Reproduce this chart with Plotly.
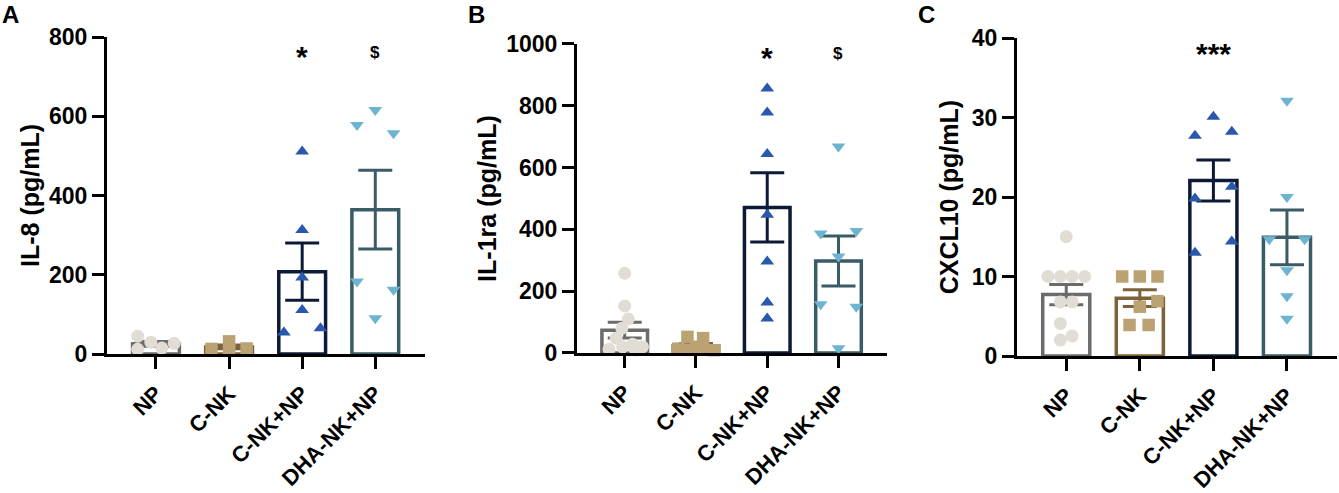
import numpy as np
import plotly.graph_objects as go

# === DATA ===
groups = ["NP", "C-NK", "C-NK+NP", "DHA-NK+NP"]

# IL-8 (pg/mL)
il8_np = [45, 30, 27, 12, 15]
il8_np_dx = [-0.25, -0.07, 0.25, -0.25, 0.08]
il8_cnk = [13, 32, 14, 12]
il8_cnk_dx = [-0.24, 0, 0.24, 0]
il8_cnknp = [511, 313, 193, 111, 54, 65]
il8_cnknp_dx = [0, 0, 0, 0, -0.25, 0.25]
il8_dha = [578, 616, 557, 183, 162, 90]
il8_dha_dx = [-0.25, 0, 0.25, -0.25, 0.25, 0]
il8_sig = ["", "", "*", "$"]

# IL-1ra (pg/mL)
il1ra_np = [258, 152, 110, 80, 48, 12, 20, 28, 20, 10]
il1ra_np_dx = [0, 0, 0.05, -0.04, -0.12, -0.22, -0.03, 0.11, 0.25, 0.15]
il1ra_cnk = [52, 48, 14, 10, 12, 9, 20]
il1ra_cnk_dx = [-0.12, 0.1, -0.25, -0.08, 0.08, 0.25, 0]
il1ra_cnknp = [856, 778, 644, 447, 296, 163, 112]
il1ra_cnknp_dx = [0, 0, 0, 0, 0, 0, 0]
il1ra_dha = [668, 387, 395, 312, 158, 150, 15]
il1ra_dha_dx = [0, -0.25, 0.25, 0, -0.25, 0.25, 0]
il1ra_sig = ["", "", "*", "$"]

# CXCL10 (pg/mL)
cxcl10_np = [15.0, 10, 10, 10, 10, 6.8, 6.8, 4.1, 2.5, 2.0]
cxcl10_np_dx = [0, -0.25, -0.08, 0.08, 0.25, -0.08, 0.08, -0.08, 0.08, -0.08]
cxcl10_cnk = [10, 10, 10, 6.9, 6.2, 3.9, 3.9]
cxcl10_cnk_dx = [-0.24, 0, 0.24, 0.24, 0, -0.14, 0.12]
cxcl10_cnknp = [30.1, 27.7, 28.2, 21.3, 19.8, 14.4, 13.0]
cxcl10_cnknp_dx = [0, -0.25, 0.25, 0.25, -0.25, 0.25, -0.25]
cxcl10_dha = [32.1, 20.0, 14.7, 14.7, 10.8, 7.5, 4.7]
cxcl10_dha_dx = [0, 0, -0.24, 0.24, 0, 0, 0]
cxcl10_sig = ["", "", "***", ""]

# === STYLE ===
edge_colors = ["#6b6b6b", "#7b623a", "#0c1a38", "#3a5c66"]
point_colors = ["#e2ddd4", "#bba273", "#2a58ad", "#6db4d1"]
symbols = ["circle", "square", "triangle-up", "triangle-down"]
sizes = [13, 12.5, 12, 12]
FONT = "Liberation Sans, Arial, sans-serif"

panels = [
    dict(letter="A", title="IL-8 (pg/mL)", ymax=800, dtick=200, sig_y=760,
         data=[(il8_np, il8_np_dx), (il8_cnk, il8_cnk_dx),
               (il8_cnknp, il8_cnknp_dx), (il8_dha, il8_dha_dx)], sig=il8_sig,
         xdom=[0.0799, 0.3174], ydom=[0.2819, 0.9249],
         letter_xy=(0.008, 0.97), title_x=0.022),
    dict(letter="B", title="IL-1ra (pg/mL)", ymax=1000, dtick=200, sig_y=970,
         data=[(il1ra_np, il1ra_np_dx), (il1ra_cnk, il1ra_cnk_dx),
               (il1ra_cnknp, il1ra_cnknp_dx), (il1ra_dha, il1ra_dha_dx)], sig=il1ra_sig,
         xdom=[0.4309, 0.6624], ydom=[0.2840, 0.9108],
         letter_xy=(0.356, 0.97), title_x=0.364),
    dict(letter="C", title="CXCL10 (pg/mL)", ymax=40, dtick=10, sig_y=38.5,
         data=[(cxcl10_np, cxcl10_np_dx), (cxcl10_cnk, cxcl10_cnk_dx),
               (cxcl10_cnknp, cxcl10_cnknp_dx), (cxcl10_dha, cxcl10_dha_dx)], sig=cxcl10_sig,
         xdom=[0.7595, 0.9985], ydom=[0.2779, 0.9229],
         letter_xy=(0.692, 0.97), title_x=0.709),
]

fig = go.Figure()
annotations = []
layout_axes = {}

for i, p in enumerate(panels):
    n = "" if i == 0 else str(i + 1)
    xa, ya = "x" + n, "y" + n

    # bars (mean +/- SEM), one trace per group for separate colours
    for g, (vals, dx) in enumerate(p["data"]):
        v = np.array(vals, dtype=float)
        mean = v.mean()
        sem = v.std(ddof=1) / np.sqrt(len(v))
        fig.add_trace(go.Bar(
            x=[g], y=[mean], width=0.64, xaxis=xa, yaxis=ya,
            marker=dict(color="white", line=dict(color=edge_colors[g], width=3.5)),
            error_y=dict(type="data", array=[sem], color=edge_colors[g],
                         thickness=3, width=17),
            showlegend=False, hoverinfo="skip",
        ))

    # individual points
    for g, (vals, dx) in enumerate(p["data"]):
        fig.add_trace(go.Scatter(
            x=[g + d for d in dx], y=vals, mode="markers", xaxis=xa, yaxis=ya,
            marker=dict(symbol=symbols[g], size=sizes[g], color=point_colors[g],
                        line=dict(width=0)),
            cliponaxis=False, showlegend=False,
        ))

    # significance marks
    for g, s in enumerate(p["sig"]):
        if s:
            star = "*" in s
            annotations.append(dict(
                x=g, y=p["sig_y"], xref=xa, yref=ya, text=s, showarrow=False,
                yshift=-4 if star else 0,
                font=dict(family=FONT, size=30 if star else 17,
                          color="black", weight="bold"),
            ))

    # panel letter and y title
    annotations.append(dict(
        x=p["letter_xy"][0], y=p["letter_xy"][1], xref="paper", yref="paper",
        text=p["letter"], showarrow=False, xanchor="center", yanchor="middle",
        font=dict(family=FONT, size=24, color="black", weight="bold"),
    ))
    annotations.append(dict(
        x=p["title_x"], y=(p["ydom"][0] + p["ydom"][1]) / 2, xref="paper", yref="paper",
        text=p["title"], showarrow=False, textangle=-90,
        xanchor="center", yanchor="middle",
        font=dict(family=FONT, size=25, color="black", weight="bold"),
    ))

    axis_common = dict(
        showline=True, linecolor="black", linewidth=3, ticks="outside",
        ticklen=12, tickwidth=3, tickcolor="black", showgrid=False,
        zeroline=False, automargin=False,
    )
    layout_axes["xaxis" + n] = dict(
        axis_common, domain=p["xdom"], anchor=ya, range=[-0.67, 3.68],
        tickvals=[0, 1, 2, 3], ticktext=groups, tickangle=-45,
        ticklabelstandoff=3,
        tickfont=dict(family=FONT, size=22, color="black", weight="bold"),
    )
    layout_axes["yaxis" + n] = dict(
        axis_common, domain=p["ydom"], anchor=xa, range=[0, p["ymax"]],
        tickvals=list(range(0, p["ymax"] + 1, p["dtick"])),
        tickfont=dict(family=FONT, size=23, color="black", weight="bold"),
    )

fig.update_layout(
    width=1339, height=493,
    margin=dict(l=0, r=0, t=0, b=0),
    plot_bgcolor="white", paper_bgcolor="white",
    barmode="overlay",
    annotations=annotations,
    **layout_axes,
)

# page body has a default 8px margin; drop it so the figure sits at the window corner
fig.write_html("out.html", config={"displayModeBar": False},
               post_script="document.body.style.margin='0';")
